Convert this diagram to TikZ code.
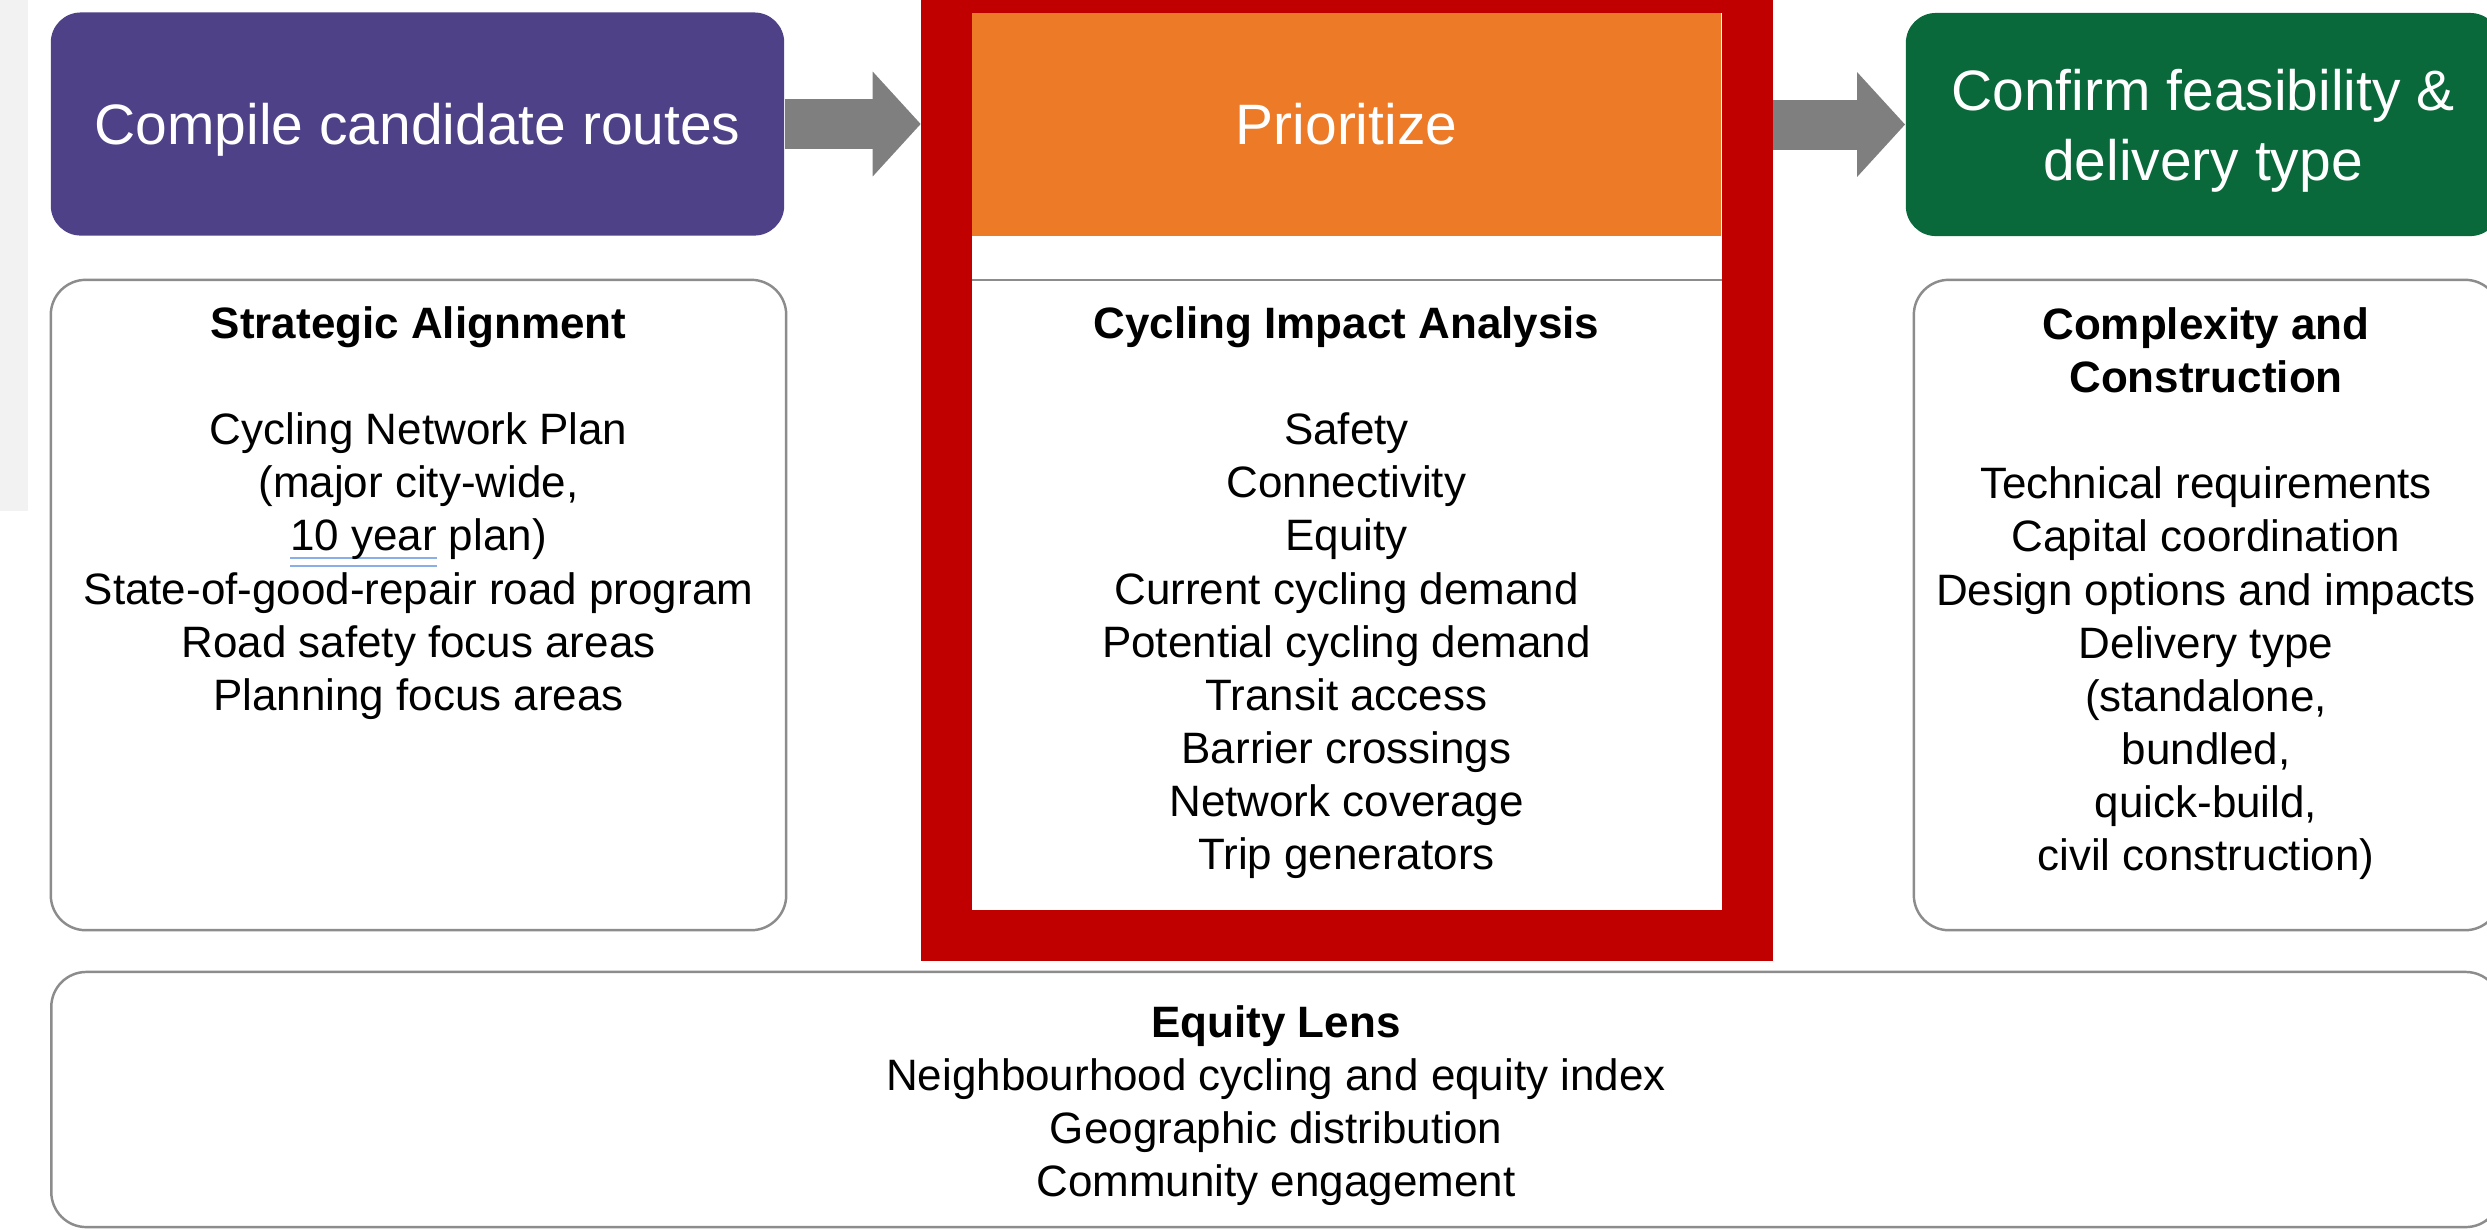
\documentclass[tikz,border=0pt]{standalone}
\usepackage{fontspec}
\setmainfont{Liberation Sans}
\usetikzlibrary{arrows.meta}

\definecolor{compilepurple}{HTML}{4F4187}
\definecolor{prioorange}{HTML}{EC7A27}
\definecolor{confirmgreen}{HTML}{09693A}
\definecolor{framered}{HTML}{C00000}
\definecolor{arrowgray}{HTML}{7F7F7F}
\definecolor{boxgray}{HTML}{8C8C8C}
\definecolor{stripgray}{HTML}{F2F2F2}
\definecolor{spellblue}{HTML}{8AAEE6}

\newcommand{\spellmark}[1]{\setbox0\hbox{#1}\rlap{\color{spellblue}\rule[-0.19em]{\wd0}{0.06em}\kern-\wd0\rule[-0.37em]{\wd0}{0.06em}}#1}

\begin{document}
\begin{tikzpicture}[x=0.01cm,y=-0.01cm]

      \useasboundingbox (0,0) rectangle (2487,1229);
      \fill[stripgray] (0,0) rectangle (28,511);

      \begin{scope}[every node/.style={draw=boxgray,line width=0.7pt,fill=white,rounded corners=0.35cm,minimum height=6.5cm}]
        \node[minimum width=7.35cm] (align)   at (418.5,605)  {};
        \node[sharp corners,minimum width=7.95cm] (impact) at (1347.5,605) {};
        \node[minimum width=5.86cm] (complex) at (2207,605)   {};
        \node[minimum width=24.48cm,minimum height=2.55cm] (equity) at (1276,1099.5) {};
      \end{scope}

      \node[draw=framered,line width=0.51cm,minimum width=8.01cm,minimum height=9.475cm] (frame) at (1347,461.25) {};

      \begin{scope}[every node/.style={rounded corners=0.3cm,text=white,align=center,inner sep=0pt,minimum height=2.23cm,font=\fontsize{16.2}{19.9}\selectfont}]
        \node[fill=compilepurple,minimum width=7.33cm,text height=14.8pt,text depth=3.4pt] (compile) at (417.5,124) {Compile candidate routes};
        \node[fill=prioorange,sharp corners,minimum width=7.49cm,text height=14.8pt,text depth=3.4pt] (prio) at (1346.5,124.5) {Prioritize};
        \node[fill=confirmgreen,minimum width=5.94cm] (confirm) at (2203,124.5) {\rule{0pt}{0.54cm}Confirm feasibility \&\\delivery type};
      \end{scope}

      \begin{scope}[flowarrow/.style={draw=arrowgray,line width=0.5cm,-{Triangle[length=0.48cm,width=1.02cm]}}]
        \draw[flowarrow] (compile.east) -- (compile.east -| frame.west);
        \draw[flowarrow] (prio.east -| frame.east) -- (confirm.west);
      \end{scope}

      \begin{scope}[every node/.style={anchor=north,align=center,inner sep=0pt,font=\fontsize{12.5}{15.1}\selectfont}]
        \node (aligntext) at (418.5,306) {\textbf{Strategic Alignment}\\[0.53cm]
          Cycling Network Plan\\(major city-wide,\\\spellmark{10 year} plan)\\
          State-of-good-repair road program\\Road safety focus areas\\Planning focus areas};
        \node (impacttext) at (1346.5,306) {\textbf{Cycling Impact Analysis}\\[0.53cm]
          Safety\\Connectivity\\Equity\\Current cycling demand\\Potential cycling demand\\
          Transit access\\Barrier crossings\\Network coverage\\Trip generators};
        \node (complextext) at (2206,307) {\textbf{Complexity and}\\\textbf{Construction}\\[0.53cm]
          Technical requirements\\Capital coordination\\Design options and impacts\\
          Delivery type\\(standalone,\\bundled,\\quick-build,\\civil construction)};
        \node (equitytext) at (1276,1005) {\textbf{Equity Lens}\\
          Neighbourhood cycling and equity index\\Geographic distribution\\Community engagement};
      \end{scope}

    \end{tikzpicture}
\end{document}
